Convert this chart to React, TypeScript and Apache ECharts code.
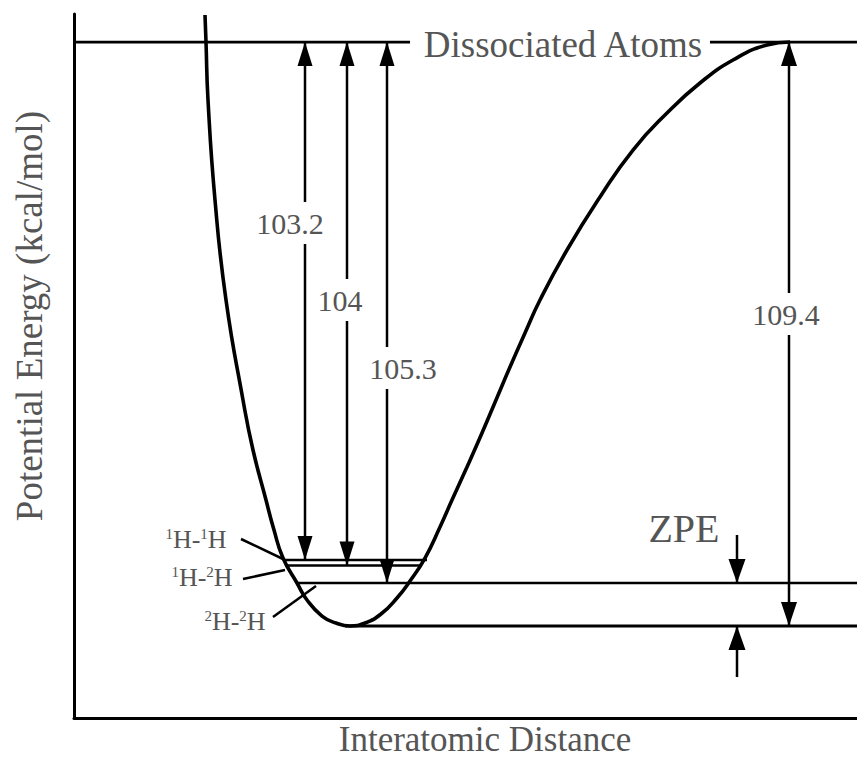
import React, { useEffect, useRef } from "react";
import * as echarts from "echarts";

// H2 potential-energy curve: interatomic distance (arbitrary units) vs energy above the well bottom
const curveR = [
  1.31, 1.32, 1.34, 1.41, 1.52, 1.69, 1.79, 1.92, 2.0, 2.09, 2.23, 2.33, 2.48, 2.62, 2.76,
  2.91, 3.07, 3.23, 3.36, 3.51, 3.66, 3.78, 3.93, 4.08, 4.22, 4.36, 4.51, 4.66, 4.93, 5.26,
  5.59, 5.93, 6.26, 6.59, 6.93, 7.16,
];
const curveE = [
  114.46, 109.4, 98.54, 79.8, 61.07, 42.34, 32.97, 23.6, 17.98, 12.74, 8.06, 4.87, 1.87, 0.56, 0,
  0.56, 2.25, 5.25, 8.43, 12.74, 18.55, 23.6, 29.79, 36.16, 42.34, 48.52, 54.89, 61.07, 70.44, 80.37,
  89.17, 96.1, 101.72, 106.03, 108.84, 109.4,
];

// Zero-point vibrational levels of the three isotopologues
const isotopologues = ["¹H-¹H", "¹H-²H", "²H-²H"];
const zeroPointLevel = [12.36, 11.33, 8.06];
const levelFrom = [2.1, 2.12, 2.23];
const levelTo = [3.53, 3.46, 7.83];

// Bond dissociation energies (kcal/mol) and where their arrows stand
const bondEnergy = ["103.2", "104", "105.3"];
const bondArrowR = [2.31, 2.73, 3.13];

// Well depth from the bottom of the curve to the separated atoms
const wellDepth = 109.4;
const wellArrowR = 7.15;
const wellBottomFrom = 2.71;

// Zero-point energy bracket (two single-headed arrows)
const zpeArrowR = 6.63;
const zpeTail = [17.05, -9.55];

// Dissociation asymptote, broken where its caption sits
const asymptoteSegments = [
  [0, 3.36],
  [6.36, 7.83],
];

const X_MIN = 0;
const X_MAX = 7.83;
const Y_MIN = -17.23;
const Y_MAX = 114.65;

const SERIF = '"Liberation Serif", "Times New Roman", serif';
const TEXT_GRAY = "#555";

export default function App() {
  const ref = useRef<HTMLDivElement>(null);

  useEffect(() => {
    if (!ref.current) return;
    const chart = echarts.init(ref.current, null, { renderer: "svg" });

    const curveData = curveR.map((r, i) => [r, curveE[i]]);

    const levelSeries = zeroPointLevel.map((e, i) => ({
      type: "line",
      name: isotopologues[i],
      data: [
        [levelFrom[i], e],
        [levelTo[i], e],
      ],
      showSymbol: false,
      lineStyle: { color: "#000", width: 2.5 },
      z: 3,
    }));

    const asymptoteSeries = asymptoteSegments.map((seg) => ({
      type: "line",
      data: [
        [seg[0], wellDepth],
        [seg[1], wellDepth],
      ],
      showSymbol: false,
      lineStyle: { color: "#000", width: 2.8 },
      z: 3,
    }));

    // [r, fromE, toE, headAtFrom, headAtTo, headWidth]
    const arrows: number[][] = [
      ...bondArrowR.map((r, i) => [r, wellDepth, zeroPointLevel[i], 1, 1, 15]),
      [wellArrowR, wellDepth, 0, 1, 1, 16],
      [zpeArrowR, zpeTail[0], zeroPointLevel[2], 0, 1, 17],
      [zpeArrowR, zpeTail[1], 0, 0, 1, 17],
    ];

    const head = (tip: number[], other: number[], w: number) => {
      const dir = other[1] > tip[1] ? 1 : -1;
      const len = 24;
      return {
        type: "polygon",
        shape: {
          points: [
            [tip[0], tip[1]],
            [tip[0] - w / 2, tip[1] + dir * len],
            [tip[0] + w / 2, tip[1] + dir * len],
          ],
        },
        style: { fill: "#000" },
      };
    };

    const textEl = (
      text: string,
      x: number,
      y: number,
      size: number,
      extra: Record<string, unknown> = {}
    ) => ({
      type: "text",
      x,
      y,
      z: 100,
      style: {
        text,
        fontSize: size,
        fontFamily: SERIF,
        fill: TEXT_GRAY,
        align: "center",
        verticalAlign: "middle",
        ...extra,
      },
    });

    const boxed = { backgroundColor: "#fff", padding: [6, 3] };

    const isoRich = {
      n: { fontSize: 26, fontFamily: SERIF, fill: TEXT_GRAY, lineHeight: 26 },
      s: { fontSize: 15, fontFamily: SERIF, fill: TEXT_GRAY, verticalAlign: "top", lineHeight: 26 },
    };
    const isoText = (label: string) =>
      label
        .replace(/¹/g, "{s|1}")
        .replace(/²/g, "{s|2}")
        .replace(/H/g, "{n|H}")
        .replace(/-/g, "{n|-}");

    const isoLabelPos = [
      [196, 539],
      [202, 577],
      [235, 621],
    ];
    const leaders = [
      [241, 539, 283, 559],
      [243, 579, 285, 570],
      [273, 617, 316, 586],
    ];
    const bondLabelPos = [
      [290, 223],
      [340, 300],
      [403, 368],
    ];

    chart.setOption({
      animation: false,
      backgroundColor: "#fff",
      grid: { left: 74, right: 0, top: 14, bottom: 40, outerBoundsMode: "none" },
      xAxis: {
        type: "value",
        min: X_MIN,
        max: X_MAX,
        axisLine: { show: true, onZero: false, lineStyle: { color: "#000", width: 3 } },
        axisTick: { show: false },
        axisLabel: { show: false },
        splitLine: { show: false },
      },
      yAxis: {
        type: "value",
        min: Y_MIN,
        max: Y_MAX,
        axisLine: { show: true, onZero: false, lineStyle: { color: "#000", width: 3 } },
        axisTick: { show: false },
        axisLabel: { show: false },
        splitLine: { show: false },
      },
      series: [
        {
          type: "line",
          name: "H2 potential",
          data: curveData,
          smooth: 0.5,
          showSymbol: false,
          lineStyle: { color: "#000", width: 3.6 },
          z: 4,
        },
        ...levelSeries,
        ...asymptoteSeries,
        {
          type: "line",
          name: "well bottom",
          data: [
            [wellBottomFrom, 0],
            [X_MAX, 0],
          ],
          showSymbol: false,
          lineStyle: { color: "#000", width: 2.8 },
          z: 3,
        },
        {
          type: "custom",
          name: "arrows",
          data: arrows,
          encode: { x: 0, y: [1, 2] },
          z: 5,
          renderItem: (_params: unknown, api: any) => {
            const r = api.value(0);
            const a = api.coord([r, api.value(1)]);
            const b = api.coord([r, api.value(2)]);
            const w = api.value(5);
            const children: any[] = [
              {
                type: "line",
                shape: { x1: a[0], y1: a[1], x2: b[0], y2: b[1] },
                style: { stroke: "#000", lineWidth: 2.5 },
              },
            ];
            if (api.value(3)) children.push(head(a, b, w));
            if (api.value(4)) children.push(head(b, a, w));
            return { type: "group", children };
          },
        },
      ],
      graphic: [
        textEl("Dissociated Atoms", 563, 44, 37),
        ...bondEnergy.map((t, i) => textEl(t, bondLabelPos[i][0], bondLabelPos[i][1], 30, boxed)),
        textEl(String(wellDepth), 786, 314, 30, boxed),
        textEl("ZPE", 684, 528, 40),
        ...isotopologues.map((t, i) =>
          textEl(isoText(t), isoLabelPos[i][0], isoLabelPos[i][1], 26, { rich: isoRich })
        ),
        ...leaders.map((l) => ({
          type: "line",
          z: 100,
          shape: { x1: l[0], y1: l[1], x2: l[2], y2: l[3] },
          style: { stroke: "#000", lineWidth: 2.5 },
        })),
        textEl("Interatomic Distance", 485, 739, 35),
        {
          ...textEl("Potential Energy (kcal/mol)", 29, 316, 37),
          rotation: Math.PI / 2,
        },
      ],
    });

    return () => chart.dispose();
  }, []);

  return (
    <div
      ref={ref}
      style={{ position: "fixed", left: 0, top: 0, width: 857, height: 758 }}
    />
  );
}
